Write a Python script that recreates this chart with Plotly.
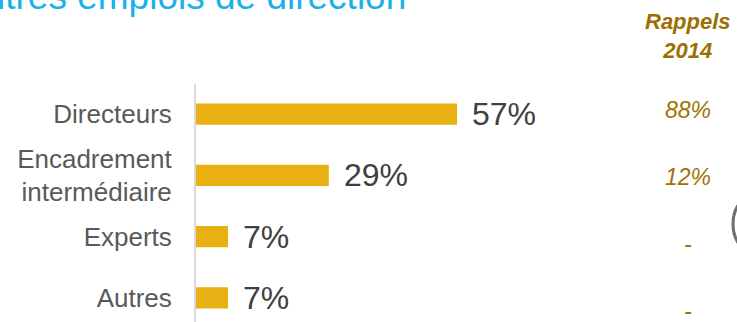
import plotly.graph_objects as go

# Données
categories = ['Directeurs', 'Encadrement<br>intermédiaire', 'Experts', 'Autres']
valeurs = [57, 29, 7, 7]
rappels_2014 = ['88%', '12%', '-', '-']

W, H = 737, 322
ML, MT = 196, 84
PW, PH = W - ML, H - MT
PX_PAR_PCT = 4.58
UNIT = 61


def px(x):
    return (x - ML) / PW


def py(y):
    return (H - y) / PH


fig = go.Figure(go.Bar(
    x=valeurs,
    y=categories,
    orientation='h',
    width=0.345,
    marker=dict(color='#E9B014', line=dict(width=0)),
    hoverinfo='skip'
))

annotations = []

# étiquettes des valeurs
for cat, v in zip(categories, valeurs):
    annotations.append(dict(
        x=v, y=cat, xref='x', yref='y', text=f'{v}%',
        xanchor='left', yanchor='middle', xshift=13, showarrow=False,
        font=dict(size=32, color='#404040')
    ))

# titre (coupé en haut de l'image)
annotations.append(dict(
    x=px(408), y=py(-26), xref='paper', yref='paper',
    text='Autres emplois de direction', xanchor='right', yanchor='top',
    showarrow=False, font=dict(size=37, color='#1BB1E7')
))

# colonne Rappels 2014
annotations.append(dict(
    x=px(688), y=py(36), xref='paper', yref='paper',
    text='<b><i>Rappels<br>2014</i></b>', xanchor='center', yanchor='middle',
    showarrow=False, font=dict(size=22, color='#9C7000')
))
rappel_y = [110, 177, 244, 311]
for txt, yy in zip(rappels_2014, rappel_y):
    annotations.append(dict(
        x=px(688), y=py(yy), xref='paper', yref='paper',
        text=f'<i>{txt}</i>', xanchor='center', yanchor='middle',
        showarrow=False, font=dict(size=23, color='#9E7400')
    ))

fig.update_layout(
    width=W, height=H,
    margin=dict(l=ML, r=0, t=MT, b=0, pad=0),
    paper_bgcolor='white', plot_bgcolor='white',
    font=dict(family='Arial, "Liberation Sans", sans-serif'),
    showlegend=False,
    xaxis=dict(range=[0, PW / PX_PAR_PCT], visible=False, fixedrange=True),
    yaxis=dict(
        range=[-0.5 + 30 / UNIT + PH / UNIT - 0.5, -30 / UNIT],
        showline=True, linecolor='#D9D9D9', linewidth=2,
        showgrid=False, zeroline=False, ticks='',
        ticklabelstandoff=17,
        tickfont=dict(size=26, color='#595959'),
        fixedrange=True
    ),
    annotations=annotations,
    shapes=[dict(
        type='circle', xref='paper', yref='paper',
        x0=px(733), x1=px(763), y0=py(199), y1=py(249),
        line=dict(color='#6F6F6F', width=3)
    )]
)

fig.write_html('out.html', config={'displayModeBar': False},
               post_script="document.body.style.margin='0';")
